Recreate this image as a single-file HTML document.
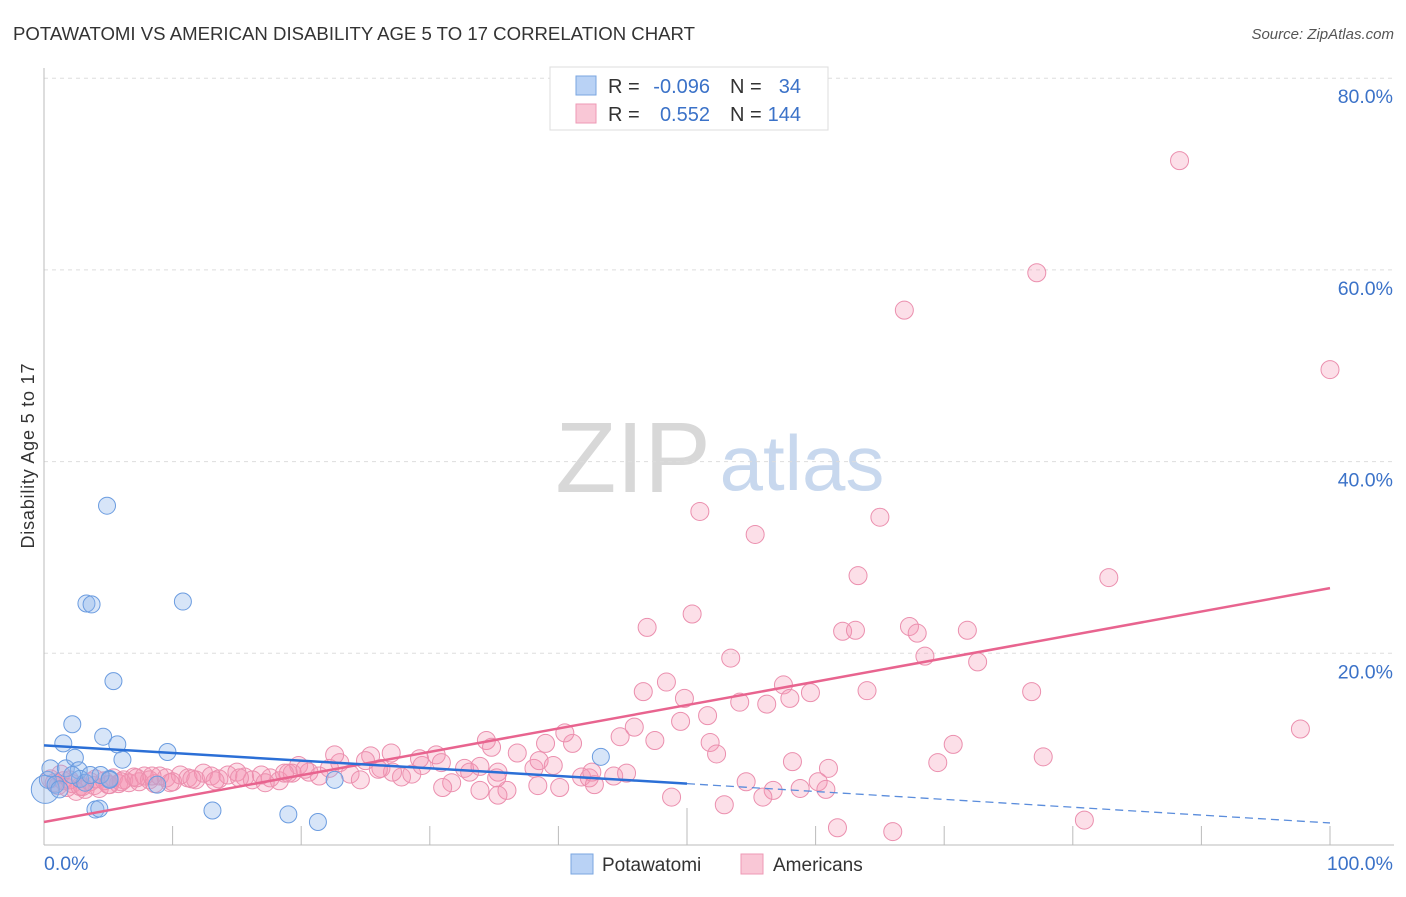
<!DOCTYPE html>
<html><head><meta charset="utf-8"><style>
body{margin:0;background:#fff;font-family:"Liberation Sans",sans-serif;}
svg text{font-family:"Liberation Sans",sans-serif;}
</style></head><body>
<svg id="chart" width="1406" height="892" xmlns="http://www.w3.org/2000/svg">
<text x="13" y="40" font-size="18" fill="#333" textLength="682" lengthAdjust="spacingAndGlyphs">POTAWATOMI VS AMERICAN DISABILITY AGE 5 TO 17 CORRELATION CHART</text>
<text x="1394" y="39" font-size="15" fill="#555" font-style="italic" text-anchor="end">Source: ZipAtlas.com</text>
<text transform="translate(34,456) rotate(-90)" font-size="18" fill="#333" text-anchor="middle" textLength="185">Disability Age 5 to 17</text>
<g>
<text x="633" y="492" font-size="100" fill="#d8d8d8" font-family="Liberation Serif,serif" text-anchor="middle">ZIP</text>
<text x="802" y="490" font-size="78" fill="#c8d8ee" text-anchor="middle">atlas</text>
</g>
<g id="grid"></g>
<g id="axes"></g>
<g id="pts"></g>
<g id="lines"></g>
<g>
<rect x="550" y="67" width="278" height="63" fill="#fff" stroke="#ddd"/>
<rect x="576" y="76" width="20" height="19" fill="#b9d2f5" stroke="#7aa6e0"/>
<rect x="576" y="104" width="20" height="19" fill="#f9c7d6" stroke="#ee9ab5"/>
<text x="608" y="93" font-size="20" fill="#333">R =</text>
<text x="710" y="93" font-size="20" fill="#3b72c8" text-anchor="end">-0.096</text>
<text x="730" y="93" font-size="20" fill="#333">N =</text>
<text x="801" y="93" font-size="20" fill="#3b72c8" text-anchor="end">34</text>
<text x="608" y="121" font-size="20" fill="#333">R =</text>
<text x="710" y="121" font-size="20" fill="#3b72c8" text-anchor="end">0.552</text>
<text x="730" y="121" font-size="20" fill="#333">N =</text>
<text x="801" y="121" font-size="20" fill="#3b72c8" text-anchor="end">144</text>
</g>
<g>
<rect x="571" y="854" width="22" height="20" fill="#b9d2f5" stroke="#7aa6e0"/>
<text x="602" y="871" font-size="19" fill="#333">Potawatomi</text>
<rect x="741" y="854" width="22" height="20" fill="#f9c7d6" stroke="#ee9ab5"/>
<text x="773" y="871" font-size="19" fill="#333">Americans</text>
</g>
</svg>
<script>
const yTicks=[20,40,60,80];
const yTickLabels=["20.0%","40.0%","60.0%","80.0%"];
const xTickLabels=["0.0%","100.0%"];
const blueX=[0.1,0.3,0.5,0.9,1.5,1.7,2.2,2.4,2.7,2.8,3.3,3.7,3.2,3.6,4.0,4.3,4.6,4.9,5.4,5.7,6.1,5.1,8.8,9.6,10.8,13.1,19.0,21.3,22.6,43.3,2.2,1.2,4.4,5.1];
const blueY=[5.8,6.8,8.0,6.3,10.6,8.0,12.6,9.1,7.8,6.9,25.2,25.1,6.5,7.3,3.7,3.8,11.3,35.4,17.1,10.5,8.9,6.9,6.3,9.7,25.4,3.6,3.2,2.4,6.8,9.2,7.3,5.8,7.3,6.8];
const pinkX=[0.5,0.8,1.1,1.5,1.8,2.2,2.5,2.8,3.2,3.6,3.9,4.3,4.7,5.1,5.4,5.8,6.2,6.6,7.0,7.4,7.8,8.2,8.6,9.0,9.5,10.0,10.6,11.2,11.8,12.4,13.0,13.6,14.3,15.0,15.6,16.2,16.9,17.6,18.3,19.0,19.8,20.6,21.4,22.2,23.0,23.8,24.6,25.4,26.2,27.0,27.8,28.6,29.4,1.3,2.0,3.0,4.0,5.0,6.0,7.2,8.4,9.8,11.5,13.3,15.2,17.2,19.3,20.3,22.6,25.0,27.1,29.2,26.0,18.7,
51.0,55.3,65.0,66.9,77.2,88.3,100,63.3,82.8,46.9,50.4,62.1,63.1,67.3,67.9,71.8,53.4,68.5,72.6,46.6,48.4,49.8,54.1,56.2,57.5,58.0,59.6,64.0,76.8,51.6,49.5,45.9,97.7,34.4,39.0,41.1,40.5,47.5,51.8,52.3,44.8,70.7,77.7,69.5,58.2,61.0,54.6,56.7,58.8,60.2,60.8,55.9,48.8,52.9,61.7,66.0,80.9,
30.5,30.9,32.7,33.1,33.9,35.3,36.0,36.8,35.2,31.7,31.0,38.1,38.5,38.4,39.6,40.1,41.8,42.4,42.6,44.3,45.3,42.8,35.3,33.9,34.8];
const pinkY=[6.9,6.5,6.2,6.7,6.0,6.4,5.6,6.1,5.8,6.6,6.2,5.9,6.7,6.3,7.0,6.4,6.8,6.5,7.1,6.6,7.2,6.8,6.4,7.2,7.0,6.6,7.3,7.0,6.8,7.5,7.2,6.9,7.3,7.6,7.1,6.8,7.3,7.0,6.7,7.5,8.3,7.6,7.2,8.0,8.6,7.4,6.8,9.3,8.0,9.6,7.1,7.4,8.3,7.4,6.8,6.1,6.9,6.3,6.6,7.0,7.2,6.5,6.9,6.7,7.0,6.5,7.5,7.9,9.4,8.8,7.6,9.0,7.9,7.5,
34.8,32.4,34.2,55.8,59.7,71.4,49.6,28.1,27.9,22.7,24.1,22.3,22.4,22.8,22.1,22.4,19.5,19.7,19.1,16.0,17.0,15.3,14.9,14.7,16.7,15.3,15.9,16.1,16.0,13.5,12.9,12.3,12.1,10.9,10.6,10.6,11.7,10.9,10.7,9.5,11.3,10.5,9.2,8.6,8.7,8.0,6.6,5.7,5.9,6.6,5.8,5.0,5.0,4.2,1.8,1.4,2.6,
9.4,8.6,8.0,7.6,8.2,7.6,5.7,9.6,7.0,6.5,6.0,8.0,8.8,6.2,8.3,6.0,7.1,7.0,7.6,7.2,7.5,6.3,5.2,5.7,10.2];
const blueLine=[10.4,6.4,2.3]; // at x=0, x=50, x=100
const pinkLine=[2.4,26.8]; // at x=0, x=100
const NS="http://www.w3.org/2000/svg";
const X0=44,X1=1330,Y0=845,YS=9.585;
const sx=v=>X0+(X1-X0)*v/100, sy=v=>Y0-v*YS;
function mk(tag,attrs,parent){const e=document.createElementNS(NS,tag);for(const k in attrs)e.setAttribute(k,attrs[k]);parent.appendChild(e);return e;}
const grid=document.getElementById('grid'),axes=document.getElementById('axes'),pts=document.getElementById('pts'),lines=document.getElementById('lines');
yTicks.forEach((t,i)=>{
 const g=mk('line',{x1:X0,x2:1394,y1:sy(t),y2:sy(t),stroke:'#ddd','stroke-dasharray':'4,4'},grid);
 
 
 const l=mk('text',{x:1393,y:sy(t)+25,'font-size':19.5,fill:'#3b72c8','text-anchor':'end'},axes);
 l.textContent=yTickLabels[i];
 
 
});
const ya=mk('line',{x1:X0,x2:X0,y1:68,y2:Y0,stroke:'#bbb'},axes);


const xa=mk('line',{x1:X0,x2:1394,y1:Y0,y2:Y0,stroke:'#bbb'},axes);


for(let i=1;i<=10;i++){
 const tk=mk('line',{x1:sx(i*10),x2:sx(i*10),y1:i==5?808:826,y2:Y0,stroke:'#bbb'},axes);
 
 
}
[[0,'start',44],[100,'end',1393]].forEach((a,i)=>{
 const t=mk('text',{x:a[2],y:870,'font-size':19.5,fill:'#3b72c8','text-anchor':a[1]},axes);
 t.textContent=xTickLabels[i];
 
 
});
pinkX.forEach((x,i)=>{
 const c=mk('circle',{cx:sx(x),cy:sy(pinkY[i]),r:9,fill:'rgba(244,150,180,0.3)',stroke:'#eb8fae','stroke-width':1},pts);
 
 
});
blueX.forEach((x,i)=>{
 const c=mk('circle',{cx:sx(x),cy:sy(blueY[i]),r:i==0?14:8.5,fill:'rgba(140,180,235,0.35)',stroke:'#6b9ce0','stroke-width':1},pts);
 
 
});
const pl=mk('line',{x1:sx(0),y1:sy(pinkLine[0]),x2:sx(100),y2:sy(pinkLine[1]),stroke:'#e8648f','stroke-width':2.5},lines);


const bl=mk('line',{x1:sx(0),y1:sy(blueLine[0]),x2:sx(50),y2:sy(blueLine[1]),stroke:'#2b6fd6','stroke-width':2.5},lines);


const bd=mk('line',{x1:sx(50),y1:sy(blueLine[1]),x2:sx(100),y2:sy(blueLine[2]),stroke:'#5b8ddc','stroke-width':1.3,'stroke-dasharray':'8,5'},lines);


</script>
</body></html>
